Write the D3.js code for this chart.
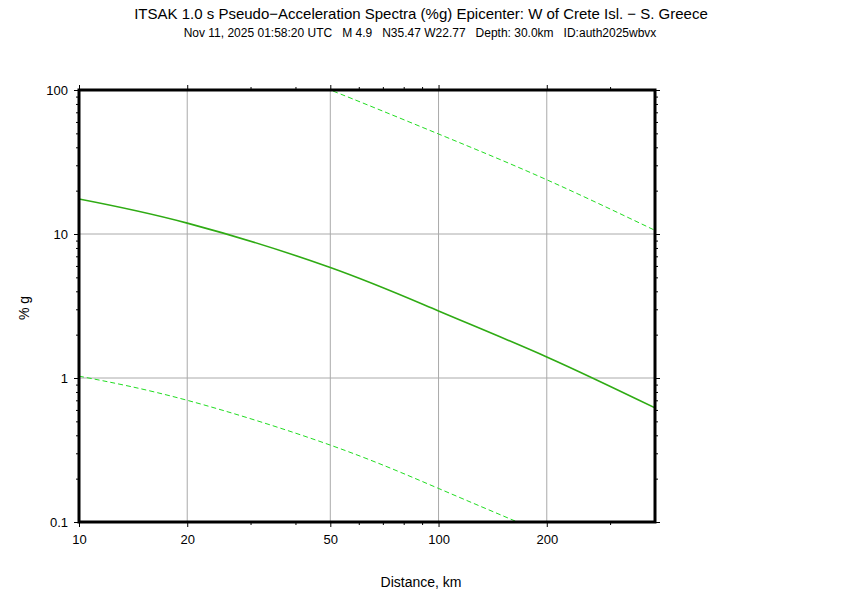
<!DOCTYPE html>
<html>
<head>
<meta charset="utf-8">
<script src="https://cdn.jsdelivr.net/npm/d3@7"></script>
<style>
  body { margin: 0; background: #fff; }
  text { font-family: "Liberation Sans", Arial, sans-serif; fill: #000; }
</style>
</head>
<body>
<svg id="chart" width="842" height="595"></svg>
<script>
// distance (km) and spectra (%g)
let distMid = [10, 20, 50, 100, 200, 400];
let accMid = [17.5, 11.9, 5.85, 2.92, 1.40, 0.62];

let distHi = [40, 50, 100, 200, 400];
let accHi = [121, 100, 49.5, 23.8, 10.6];

let distLo = [10, 20, 50, 100, 200];
let accLo = [1.03, 0.70, 0.342, 0.171, 0.082];

let xLabels = [10, 20, 50, 100, 200];
let xMinor = [30, 40, 60, 70, 80, 90, 300];
let yLabels = [0.1, 1, 10, 100];

let svg = d3.select("#chart");

let pLeft = 79, pRight = 655, pTop = 90, pBottom = 522;

let x = d3.scaleLog().domain([10, 400]).range([pLeft, pRight]);
let y = d3.scaleLog().domain([0.1, 100]).range([pBottom, pTop]);

let yMinor = [];
for (let d = 0.1; d < 100; d *= 10) {
  for (let k = 2; k <= 9; k++) yMinor.push(+(d * k).toPrecision(3));
}

// title
svg.append("text").attr("x", 421).attr("y", 19).attr("text-anchor", "middle")
  .style("font-size", "15px")
  .text("ITSAK 1.0 s Pseudo\u2212Acceleration Spectra (%g) Epicenter: W of Crete Isl. \u2212 S. Greece");
svg.append("text").attr("x", 420).attr("y", 37).attr("text-anchor", "middle")
  .style("font-size", "12px")
  .attr("xml:space", "preserve")
  .text("Nov 11, 2025 01:58:20 UTC   M 4.9   N35.47 W22.77   Depth: 30.0km   ID:auth2025wbvx");

// grid
let grid = svg.append("g").attr("stroke", "#aaaaaa").attr("stroke-width", 1);
grid.selectAll(".gx").data(xLabels.filter(v => v > 10)).join("line")
  .attr("x1", d => x(d)).attr("x2", d => x(d)).attr("y1", pTop).attr("y2", pBottom);
grid.selectAll(".gy").data(yLabels.filter(v => v > 0.1 && v < 100)).join("line")
  .attr("y1", d => y(d)).attr("y2", d => y(d)).attr("x1", pLeft).attr("x2", pRight);

// curves
svg.append("clipPath").attr("id", "clip").append("rect")
  .attr("x", pLeft).attr("y", pTop).attr("width", pRight - pLeft).attr("height", pBottom - pTop);

let line = d3.line().x(d => x(d[0])).y(d => y(d[1])).curve(d3.curveNatural);
let plot = svg.append("g").attr("clip-path", "url(#clip)").attr("fill", "none");

plot.append("path").datum(d3.zip(distHi, accHi)).attr("d", line)
  .attr("stroke", "#22dd22").attr("stroke-width", 1).attr("stroke-dasharray", "5,3");
plot.append("path").datum(d3.zip(distLo, accLo)).attr("d", line)
  .attr("stroke", "#22dd22").attr("stroke-width", 1).attr("stroke-dasharray", "5,3");
plot.append("path").datum(d3.zip(distMid, accMid)).attr("d", line)
  .attr("stroke", "#2fab14").attr("stroke-width", 1.6);

// axes
let fmt = d => String(d);
svg.append("g").attr("transform", `translate(0,${pBottom})`)
  .call(d3.axisBottom(x).tickValues(xLabels).tickFormat(fmt).tickSize(5).tickPadding(8));
svg.append("g").attr("transform", `translate(0,${pBottom})`)
  .call(d3.axisBottom(x).tickValues(xMinor).tickFormat("").tickSize(3));
svg.append("g").attr("transform", `translate(0,${pTop})`)
  .call(d3.axisTop(x).tickValues(xLabels).tickFormat("").tickSize(5));
svg.append("g").attr("transform", `translate(0,${pTop})`)
  .call(d3.axisTop(x).tickValues(xMinor).tickFormat("").tickSize(3));

svg.append("g").attr("transform", `translate(${pLeft},0)`)
  .call(d3.axisLeft(y).tickValues(yLabels).tickFormat(fmt).tickSize(5).tickPadding(6));
svg.append("g").attr("transform", `translate(${pLeft},0)`)
  .call(d3.axisLeft(y).tickValues(yMinor).tickFormat("").tickSize(3));
svg.append("g").attr("transform", `translate(${pRight},0)`)
  .call(d3.axisRight(y).tickValues(yLabels).tickFormat("").tickSize(5));
svg.append("g").attr("transform", `translate(${pRight},0)`)
  .call(d3.axisRight(y).tickValues(yMinor).tickFormat("").tickSize(3));

svg.selectAll(".domain").remove();
svg.selectAll(".tick line").attr("stroke", "#000");
svg.selectAll(".tick text").style("font-size", "13px").style("font-family", "Liberation Sans, Arial, sans-serif");

// frame
svg.append("rect").attr("x", pLeft).attr("y", pTop)
  .attr("width", pRight - pLeft).attr("height", pBottom - pTop)
  .attr("fill", "none").attr("stroke", "#000").attr("stroke-width", 3);

// axis titles
svg.append("text").attr("x", 421).attr("y", 587).attr("text-anchor", "middle")
  .style("font-size", "14px").text("Distance, km");
svg.append("text").attr("transform", "translate(29,308) rotate(-90)").attr("text-anchor", "middle")
  .style("font-size", "14px").text("% g");
</script>
</body>
</html>
